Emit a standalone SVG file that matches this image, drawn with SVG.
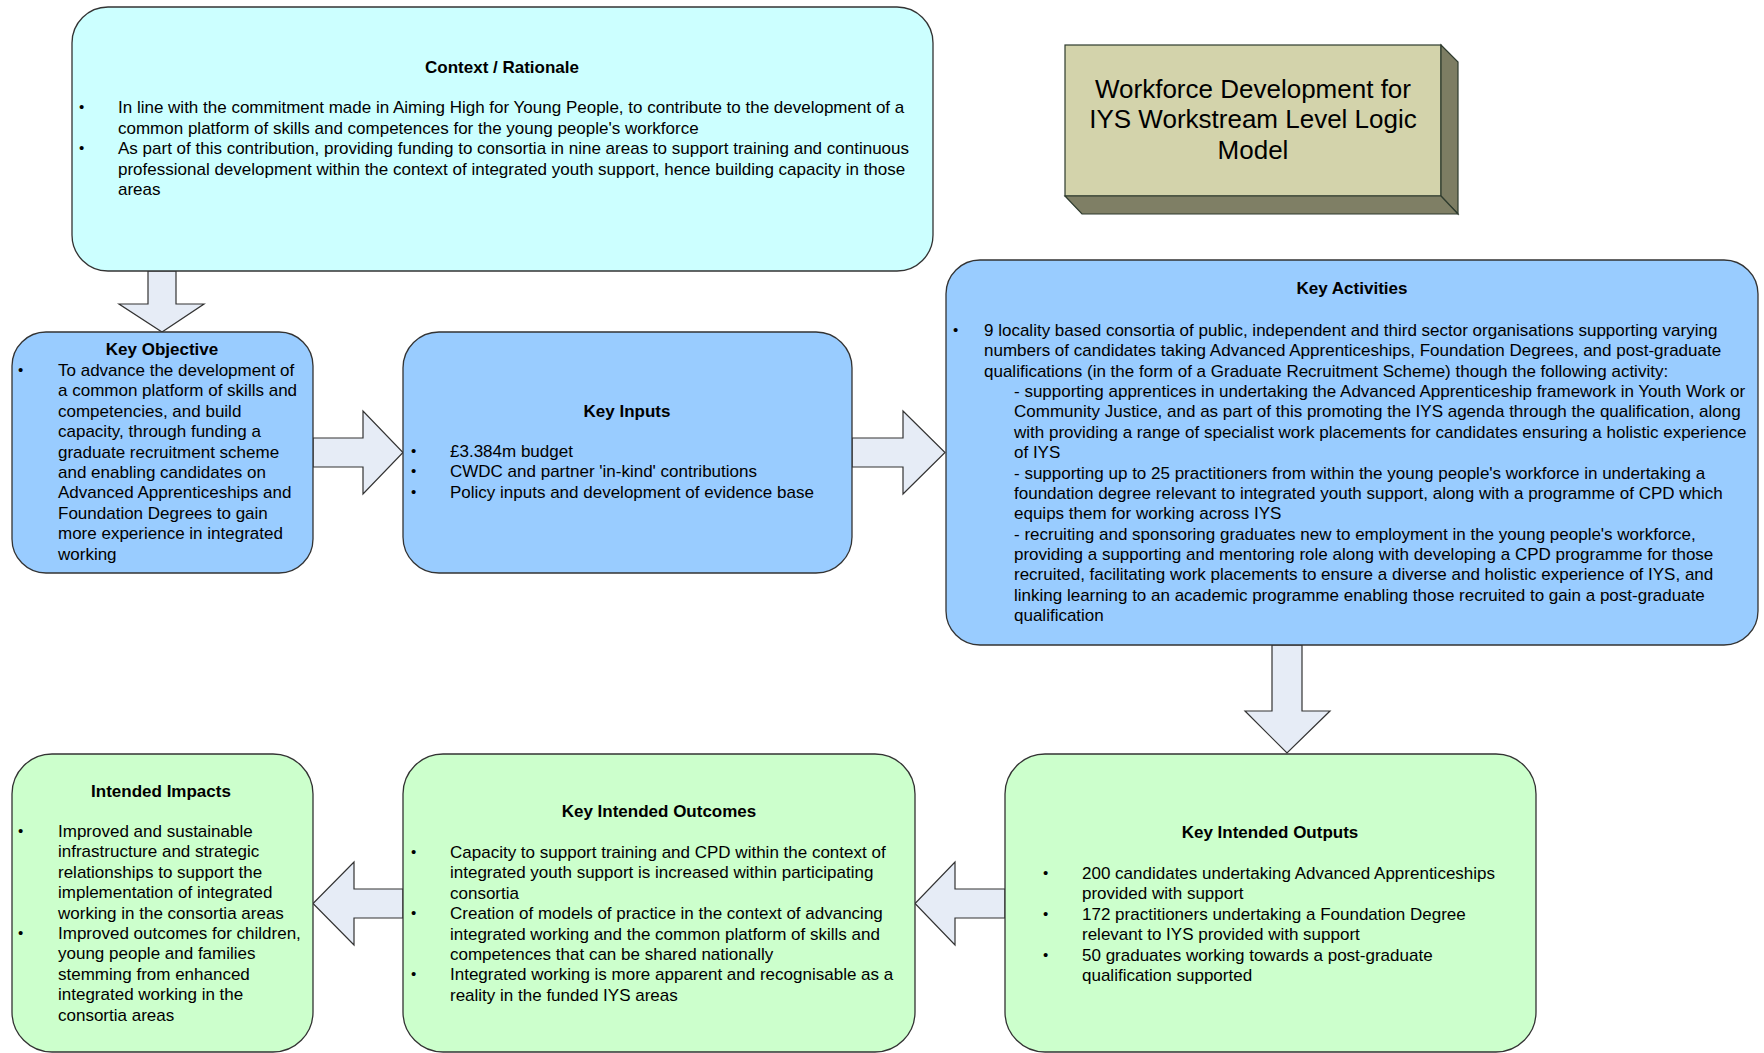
<svg xmlns="http://www.w3.org/2000/svg" width="1764" height="1053" viewBox="0 0 1764 1053">
<style>
text{font-family:"Liberation Sans",Arial,sans-serif;font-size:17px;fill:#000}
.t{font-weight:bold;text-anchor:middle}
.b{font-size:15px}
.box{stroke:#333;stroke-width:1.3}
.cyan{fill:#CCFFFF}
.blue{fill:#99CCFF}
.green{fill:#CCFFCC}
.arr{fill:#E6ECF6;stroke:#333;stroke-width:1.2;stroke-linejoin:miter}
.big{font-size:26px;text-anchor:middle}
</style>
<rect width="1764" height="1053" fill="#fff"/>
<g id="connectors">
<polygon class="arr" points="148,271 176,271 176,304 204,304 162,332 119,304 148,304"/>
<polygon class="arr" points="313,438 363,438 363,411 403,452.5 363,494 363,467 313,467"/>
<polygon class="arr" points="852,438 903,438 903,411 945,452.5 903,494 903,467 852,467"/>
<polygon class="arr" points="1272,645 1302,645 1302,711 1330,711 1287,753 1245,711 1272,711"/>
<polygon class="arr" points="1005,889 955,889 955,862 915,903.5 955,945 955,918 1005,918"/>
<polygon class="arr" points="403,889 354,889 354,862 313,903.5 354,945 354,918 403,918"/>
</g>
<g id="context">
<rect class="box cyan" x="72" y="7" width="861" height="264" rx="36"/>
<text class="t" x="502" y="73">Context / Rationale</text>
<text class="b" x="79" y="112">•</text>
<text class="b" x="79" y="153">•</text>
<text x="118" y="113">In line with the commitment made in Aiming High for Young People, to contribute to the development of a</text>
<text x="118" y="133.5">common platform of skills and competences for the young people's workforce</text>
<text x="118" y="154">As part of this contribution, providing funding to consortia in nine areas to support training and continuous</text>
<text x="118" y="174.5">professional development within the context of integrated youth support, hence building capacity in those</text>
<text x="118" y="195">areas</text>
</g>
<g id="title">
<rect x="1065" y="45" width="376" height="151" fill="#D3D3AB" stroke="#2E3B2E" stroke-width="1.2"/>
<polygon points="1441,45 1458,62 1458,214 1441,196" fill="#7D7D63" stroke="#2E3B2E" stroke-width="1.2"/>
<polygon points="1065,196 1441,196 1458,214 1082,214" fill="#7F7F65" stroke="#2E3B2E" stroke-width="1.2"/>
<text class="big" x="1253" y="97.5">Workforce Development for</text>
<text class="big" x="1253" y="128">IYS Workstream Level Logic</text>
<text class="big" x="1253" y="158.5">Model</text>
</g>
<g id="key-objective">
<rect class="box blue" x="12" y="332" width="301" height="241" rx="34"/>
<text class="t" x="162" y="355">Key Objective</text>
<text class="b" x="18" y="375">•</text>
<text x="58" y="376">To advance the development of</text>
<text x="58" y="396.4">a common platform of skills and</text>
<text x="58" y="416.8">competencies, and build</text>
<text x="58" y="437.2">capacity, through funding a</text>
<text x="58" y="457.6">graduate recruitment scheme</text>
<text x="58" y="478">and enabling candidates on</text>
<text x="58" y="498.4">Advanced Apprenticeships and</text>
<text x="58" y="518.8">Foundation Degrees to gain</text>
<text x="58" y="539.2">more experience in integrated</text>
<text x="58" y="559.6">working</text>
</g>
<g id="key-inputs">
<rect class="box blue" x="403" y="332" width="449" height="241" rx="36"/>
<text class="t" x="627" y="417">Key Inputs</text>
<text class="b" x="411" y="456">•</text>
<text class="b" x="411" y="476.4">•</text>
<text class="b" x="411" y="496.8">•</text>
<text x="450" y="457">£3.384m budget</text>
<text x="450" y="477.4">CWDC and partner 'in-kind' contributions</text>
<text x="450" y="497.8">Policy inputs and development of evidence base</text>
</g>
<g id="key-activities">
<rect class="box blue" x="946" y="260" width="812" height="385" rx="34"/>
<text class="t" x="1352" y="294">Key Activities</text>
<text class="b" x="953" y="335">•</text>
<text x="984" y="336">9 locality based consortia of public, independent and third sector organisations supporting varying</text>
<text x="984" y="356.4">numbers of candidates taking Advanced Apprenticeships, Foundation Degrees, and post-graduate</text>
<text x="984" y="376.7">qualifications (in the form of a Graduate Recruitment Scheme) though the following activity:</text>
<text x="1014" y="397.1">- supporting apprentices in undertaking the Advanced Apprenticeship framework in Youth Work or</text>
<text x="1014" y="417.4">Community Justice, and as part of this promoting the IYS agenda through the qualification, along</text>
<text x="1014" y="437.8">with providing a range of specialist work placements for candidates ensuring a holistic experience</text>
<text x="1014" y="458.2">of IYS</text>
<text x="1014" y="478.5">- supporting up to 25 practitioners from within the young people's workforce in undertaking a</text>
<text x="1014" y="498.9">foundation degree relevant to integrated youth support, along with a programme of CPD which</text>
<text x="1014" y="519.2">equips them for working across IYS</text>
<text x="1014" y="539.6">- recruiting and sponsoring graduates new to employment in the young people's workforce,</text>
<text x="1014" y="560">providing a supporting and mentoring role along with developing a CPD programme for those</text>
<text x="1014" y="580.3">recruited, facilitating work placements to ensure a diverse and holistic experience of IYS, and</text>
<text x="1014" y="600.7">linking learning to an academic programme enabling those recruited to gain a post-graduate</text>
<text x="1014" y="621">qualification</text>
</g>
<g id="key-intended-outputs">
<rect class="box green" x="1005" y="754" width="531" height="298" rx="40"/>
<text class="t" x="1270" y="838">Key Intended Outputs</text>
<text class="b" x="1043" y="878">•</text>
<text class="b" x="1043" y="918.8">•</text>
<text class="b" x="1043" y="959.6">•</text>
<text x="1082" y="879">200 candidates undertaking Advanced Apprenticeships</text>
<text x="1082" y="899.4">provided with support</text>
<text x="1082" y="919.8">172 practitioners undertaking a Foundation Degree</text>
<text x="1082" y="940.2">relevant to IYS provided with support</text>
<text x="1082" y="960.6">50 graduates working towards a post-graduate</text>
<text x="1082" y="981">qualification supported</text>
</g>
<g id="key-intended-outcomes">
<rect class="box green" x="403" y="754" width="512" height="298" rx="40"/>
<text class="t" x="659" y="817">Key Intended Outcomes</text>
<text class="b" x="411" y="857">•</text>
<text class="b" x="411" y="918.2">•</text>
<text class="b" x="411" y="979.4">•</text>
<text x="450" y="858">Capacity to support training and CPD within the context of</text>
<text x="450" y="878.4">integrated youth support is increased within participating</text>
<text x="450" y="898.8">consortia</text>
<text x="450" y="919.2">Creation of models of practice in the context of advancing</text>
<text x="450" y="939.6">integrated working and the common platform of skills and</text>
<text x="450" y="960">competences that can be shared nationally</text>
<text x="450" y="980.4">Integrated working is more apparent and recognisable as a</text>
<text x="450" y="1000.8">reality in the funded IYS areas</text>
</g>
<g id="intended-impacts">
<rect class="box green" x="12" y="754" width="301" height="298" rx="40"/>
<text class="t" x="161" y="797">Intended Impacts</text>
<text class="b" x="18" y="836">•</text>
<text class="b" x="18" y="938">•</text>
<text x="58" y="837">Improved and sustainable</text>
<text x="58" y="857.4">infrastructure and strategic</text>
<text x="58" y="877.8">relationships to support the</text>
<text x="58" y="898.2">implementation of integrated</text>
<text x="58" y="918.6">working in the consortia areas</text>
<text x="58" y="939">Improved outcomes for children,</text>
<text x="58" y="959.4">young people and families</text>
<text x="58" y="979.8">stemming from enhanced</text>
<text x="58" y="1000.2">integrated working in the</text>
<text x="58" y="1020.6">consortia areas</text>
</g>
</svg>
